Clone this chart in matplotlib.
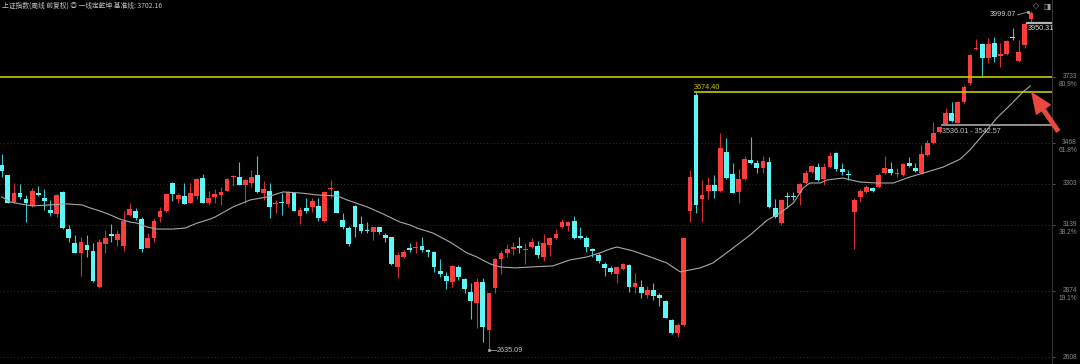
import numpy as np
import matplotlib
matplotlib.use("Agg")
import matplotlib.pyplot as plt

# weekly OHLC (Shanghai Composite, weekly, forward-adjusted)
opens = [
    3379, 3339, 3231, 3267, 3243, 3215, 3267, 3247, 3199, 3183,
    3271, 3122, 3066, 3026, 3058, 3034, 2889, 3062, 3102, 3078,
    3054, 3179, 3195, 3162, 3046, 3086, 3170, 3195, 3307, 3243,
    3255, 3227, 3255, 3327, 3227, 3251, 3259, 3275, 3331, 3331,
    3299, 3307, 3339, 3267, 3275, 3223, 3231, 3223, 3267, 3175,
    3207, 3211, 3215, 3154, 3283, 3275, 3158, 3126, 3215, 3142,
    3118, 3110, 3130, 3098, 3090, 2970, 3010, 3046, 3046, 3054,
    3038, 3030, 2954, 2933, 2909, 2970, 2921, 2869, 2825, 2909,
    2716, 2885, 3002, 3026, 3042, 3054, 3038, 3050, 3054, 3010,
    3058, 3086, 3130, 3134, 3154, 3094, 3086, 3042, 3018, 2982,
    2966, 2941, 2962, 2978, 2889, 2889, 2857, 2877, 2857, 2833,
    2757, 2704, 2737, 3195, 3660, 3243, 3275, 3299, 3275, 3432,
    3343, 3271, 3323, 3400, 3387, 3367, 3391, 3207, 3146, 3255,
    3255, 3267, 3307, 3351, 3371, 3323, 3371, 3428, 3363, 3343,
    3191, 3251, 3271, 3287, 3291, 3347, 3363, 3343, 3339, 3388,
    3367, 3347, 3420, 3468, 3512, 3545, 3588, 3548, 3633, 3709,
    3846, 3866, 3809, 3870, 3817, 3825, 3894, 3797, 3862, 3966,
]
highs = [
    3424, 3341, 3307, 3303, 3259, 3287, 3295, 3283, 3239, 3261,
    3275, 3138, 3098, 3090, 3098, 3066, 3082, 3118, 3142, 3118,
    3195, 3227, 3207, 3170, 3106, 3166, 3211, 3265, 3309, 3267,
    3307, 3307, 3327, 3343, 3275, 3283, 3291, 3327, 3339, 3391,
    3323, 3359, 3416, 3315, 3307, 3239, 3267, 3275, 3269, 3211,
    3247, 3247, 3247, 3275, 3319, 3277, 3187, 3134, 3219, 3174,
    3150, 3132, 3132, 3106, 3092, 3030, 3038, 3066, 3074, 3090,
    3040, 3034, 3002, 2950, 2978, 2978, 2925, 2905, 2925, 2925,
    2867, 3006, 3038, 3062, 3070, 3090, 3066, 3086, 3074, 3102,
    3090, 3122, 3162, 3154, 3175, 3130, 3094, 3044, 3026, 2990,
    2974, 2974, 2986, 2982, 2945, 2917, 2893, 2905, 2865, 2837,
    2759, 2745, 3088, 3359, 3674.40, 3319, 3331, 3339, 3508, 3488,
    3387, 3363, 3416, 3492, 3400, 3416, 3412, 3243, 3243, 3271,
    3271, 3307, 3359, 3379, 3387, 3387, 3432, 3432, 3387, 3359,
    3247, 3283, 3299, 3291, 3347, 3416, 3391, 3367, 3388, 3412,
    3388, 3460, 3480, 3552, 3536.01, 3608, 3633, 3637, 3701, 3825,
    3886, 3870, 3890, 3894, 3870, 3882, 3930, 3882, 3950, 3999.07,
]
lows = [
    3331, 3225, 3227, 3243, 3150, 3211, 3255, 3199, 3175, 3171,
    3124, 3070, 3024, 2933, 3010, 2909, 2885, 3026, 3070, 3054,
    3034, 3175, 3158, 3030, 3044, 3070, 3150, 3192, 3235, 3227,
    3221, 3225, 3243, 3225, 3219, 3227, 3219, 3273, 3295, 3297,
    3227, 3291, 3267, 3239, 3166, 3187, 3179, 3211, 3193, 3142,
    3187, 3191, 3154, 3150, 3247, 3185, 3122, 3054, 3090, 3106,
    3106, 3078, 3102, 3070, 2978, 2925, 3006, 3030, 3026, 3030,
    3010, 2950, 2929, 2881, 2889, 2917, 2865, 2761, 2725, 2668,
    2635.09, 2865, 2941, 3010, 3018, 3026, 2982, 3046, 3006, 2994,
    3014, 3082, 3126, 3114, 3084, 3082, 3030, 3010, 2986, 2933,
    2941, 2905, 2958, 2869, 2865, 2845, 2845, 2837, 2813, 2763,
    2702, 2688, 2733, 3150, 3187, 3150, 3243, 3247, 3271, 3325,
    3265, 3227, 3321, 3383, 3347, 3347, 3207, 3166, 3138, 3207,
    3239, 3219, 3303, 3347, 3315, 3299, 3367, 3355, 3339, 3319,
    3042, 3231, 3267, 3271, 3287, 3345, 3339, 3331, 3335, 3371,
    3351, 3345, 3416, 3464, 3508, 3542.57, 3552, 3546, 3629, 3701,
    3842, 3733, 3789, 3793, 3773, 3821, 3882, 3793, 3850, 3950.31,
]
closes = [
    3355, 3227, 3267, 3251, 3227, 3275, 3259, 3235, 3187, 3259,
    3126, 3086, 3026, 3070, 3038, 2913, 3070, 3086, 3094, 3102,
    3154, 3203, 3166, 3042, 3086, 3154, 3195, 3263, 3263, 3259,
    3223, 3267, 3323, 3227, 3247, 3263, 3271, 3323, 3335, 3299,
    3319, 3331, 3271, 3283, 3211, 3227, 3227, 3271, 3195, 3199,
    3195, 3235, 3166, 3271, 3287, 3187, 3130, 3062, 3130, 3114,
    3114, 3130, 3110, 3086, 2982, 3018, 3030, 3038, 3050, 3038,
    3030, 2970, 2941, 2913, 2974, 2929, 2881, 2833, 2909, 2728,
    2865, 3002, 3026, 3042, 3050, 3046, 3042, 3070, 3018, 3066,
    3086, 3102, 3150, 3150, 3086, 3086, 3050, 3034, 2994, 2966,
    2950, 2970, 2982, 2889, 2905, 2865, 2877, 2853, 2845, 2765,
    2704, 2737, 3086, 3331, 3219, 3259, 3299, 3275, 3448, 3327,
    3267, 3323, 3404, 3387, 3367, 3396, 3211, 3171, 3239, 3251,
    3251, 3303, 3347, 3375, 3319, 3371, 3416, 3363, 3351, 3339,
    3239, 3275, 3291, 3275, 3339, 3367, 3347, 3347, 3383, 3375,
    3355, 3424, 3468, 3508, 3532, 3588, 3556, 3633, 3693, 3821,
    3850, 3809, 3866, 3813, 3825, 3878, 3890, 3833, 3946, 3990,
]

# moving average line (bar index, value)
ma_idx = [0, 1.4, 3.0, 5.1, 7.9, 10.7, 13.2, 14.5, 16.1, 17.8, 19.4, 21.1, 22.2,
          23.9, 25.5, 28.1, 30.1, 32.1, 34.2, 35.0, 38.0, 40.8, 43.6, 46.2, 49.0,
          51.8, 55.1, 56.7, 60.0, 62.6, 65.4, 67.1, 68.2, 70.8, 73.6, 76.4, 78.0,
          80.2, 81.8, 84.3, 87.2, 90.5, 93.3, 96.1, 98.2, 99.9, 101.0, 103.7, 106.5,
          109.2, 111.4, 114.7, 116.8, 120.1, 122.9, 125.7, 127.8, 130.0, 131.6,
          132.7, 134.4, 135.5, 138.1, 140.9, 143.7, 146.4, 149.1, 151.9, 154.6,
          157.4, 159.0, 161.1, 163.4, 165.6, 167.7, 168.9]
ma_val = [3251, 3231, 3223, 3215, 3219, 3223, 3219, 3207, 3195, 3179, 3162, 3150, 3146,
          3130, 3122, 3122, 3126, 3146, 3162, 3170, 3211, 3239, 3251, 3271, 3267,
          3259, 3255, 3239, 3211, 3183, 3150, 3138, 3126, 3106, 3070, 3026, 3010,
          2982, 2970, 2966, 2970, 2974, 2998, 3010, 3026, 3042, 3050, 3034, 3010,
          2986, 2950, 2966, 2986, 3046, 3098, 3158, 3186, 3227, 3287,
          3307, 3307, 3319, 3327, 3311, 3307, 3307, 3331, 3351, 3371,
          3403, 3440, 3500, 3568, 3620, 3673, 3697]

axis_levels = [3733, 3468, 3303, 3139, 2874, 2608]
axis_pcts = ["80.9%", "61.8%", "", "38.2%", "19.1%", ""]

title = "上证指数(周线 前复权) ◎ 一线定乾坤 基准线: 3702.16"

UP, DOWN = "#ff3c3c", "#5ef7f7"
UP_WICK, DOWN_WICK = "#d23030", "#3cc8c8"
YELLOW = "#c8c800"
NUM_FONT = "Liberation Sans"
NUM_SIZE = 5.2

fig = plt.figure(figsize=(10.8, 3.64), dpi=100, facecolor="black")
ax = fig.add_axes([0, 0, 1052 / 1080, 1])
ax.set_facecolor("black")

o = np.array(opens, dtype=float)
h = np.array(highs, dtype=float)
l = np.array(lows, dtype=float)
c = np.array(closes, dtype=float)
x = np.arange(len(c))
up = c >= o

xmax = 172.46
ax.set_xlim(-0.28, xmax)
ax.set_ylim(2580, 4042)

# dotted grid at the axis levels
for lvl in axis_levels[1:]:
    ax.axhline(lvl, color="#333333", lw=0.7, ls=(0, (1, 2.5)), zorder=0)

# candles
ax.vlines(x, l, h, colors=np.where(up, UP_WICK, DOWN_WICK), lw=0.8, zorder=1)
bottoms = np.minimum(o, c)
heights = np.maximum(np.abs(c - o), 4)
ax.bar(x, heights, bottom=bottoms, width=0.78,
       color=np.where(up, UP, DOWN), linewidth=0, zorder=2)

# moving average
ax.plot(ma_idx, ma_val, color="#a8a8a8", lw=0.8, zorder=3)

# horizontal markers
ax.axhline(3733, color=YELLOW, lw=1.2, zorder=4)
ax.hlines(3674.40, 113.6, xmax, color=YELLOW, lw=1.2, zorder=4)
ax.fill_between([154.3, xmax], 3536.01, 3542.57, color="#8c8c8c", lw=0, zorder=4)
ax.hlines(3950.31, 168.2, xmax, color="#b4b4b4", lw=1.6, zorder=4)

# annotations
ax.text(113.6, 3691, "3674.40", color=YELLOW, fontsize=NUM_SIZE, family=NUM_FONT,
        va="center", ha="left")
ax.text(154.4, 3512, "3536.01 - 3542.57", color="#c8c8c8", fontsize=NUM_SIZE,
        family=NUM_FONT, va="center", ha="left")
ax.text(166.6, 3982, "3999.07", color="#d0d0d0", fontsize=NUM_SIZE, family=NUM_FONT,
        va="center", ha="right")
ax.plot([166.8, 168.5], [3982, 3994], color="#a0a0a0", lw=0.6)
ax.plot([168.5], [3994], "o", color="#a0a0a0", ms=1.3)
ax.text(168.4, 3926, "3950.31", color="#e0e0e0", fontsize=NUM_SIZE, family=NUM_FONT,
        va="center", ha="left", clip_on=False)
ax.plot([80, 81.2], [2635.09, 2635.09], color="#a0a0a0", lw=0.6)
ax.plot([80], [2635.09], "o", color="#a0a0a0", ms=1.3)
ax.text(81.3, 2635.09, "2635.09", color="#c0c0c0", fontsize=NUM_SIZE, family=NUM_FONT,
        va="center", ha="left")

# right price axis
for side in ["left", "top", "bottom"]:
    ax.spines[side].set_visible(False)
ax.spines["right"].set_color("#333333")
ax.spines["right"].set_linewidth(0.8)
ax.set_xticks([])
ax.set_yticks(axis_levels)
ax.tick_params(axis="y", left=False, right=True, labelleft=False, labelright=False,
               length=2.5, width=0.7, color="#555555", direction="out")
for lvl, pct in zip(axis_levels, axis_pcts):
    ax.annotate(str(lvl), xy=(1077, lvl), xycoords=("figure pixels", "data"),
                ha="right", va="center", fontsize=4.8, color="#8a8a8a",
                family=NUM_FONT, annotation_clip=False)
    if pct:
        ax.annotate(pct, xy=(1077, lvl), xycoords=("figure pixels", "data"),
                    xytext=(0, -5.3), textcoords="offset points",
                    ha="right", va="center", fontsize=4.8, color="#8a8a8a",
                    family=NUM_FONT, annotation_clip=False)

# overlay in pixel coordinates for title, icons and the arrow
ov = fig.add_axes([0, 0, 1, 1])
ov.axis("off")
ov.set_xlim(0, 1080)
ov.set_ylim(364, 0)
ov.text(2, 6, title, fontsize=4.9, color="#c4c4c4", va="center", ha="left",
        family=["Noto Sans CJK SC", "DejaVu Sans"])
ov.text(1036, 6, "◇", fontsize=5.5, color="#a0a0a0", va="center", ha="center",
        family="DejaVu Sans")
ov.text(1047, 6, "◨", fontsize=5.5, color="#a0a0a0", va="center", ha="center",
        family="DejaVu Sans")
ov.annotate("", xy=(1032, 93), xytext=(1058, 131),
            arrowprops=dict(arrowstyle="simple,head_length=1.2,head_width=1.0,tail_width=0.22",
                            color="#e8483e", mutation_scale=12, shrinkA=0, shrinkB=0))

fig.savefig("out.png", dpi=100, facecolor="black")
